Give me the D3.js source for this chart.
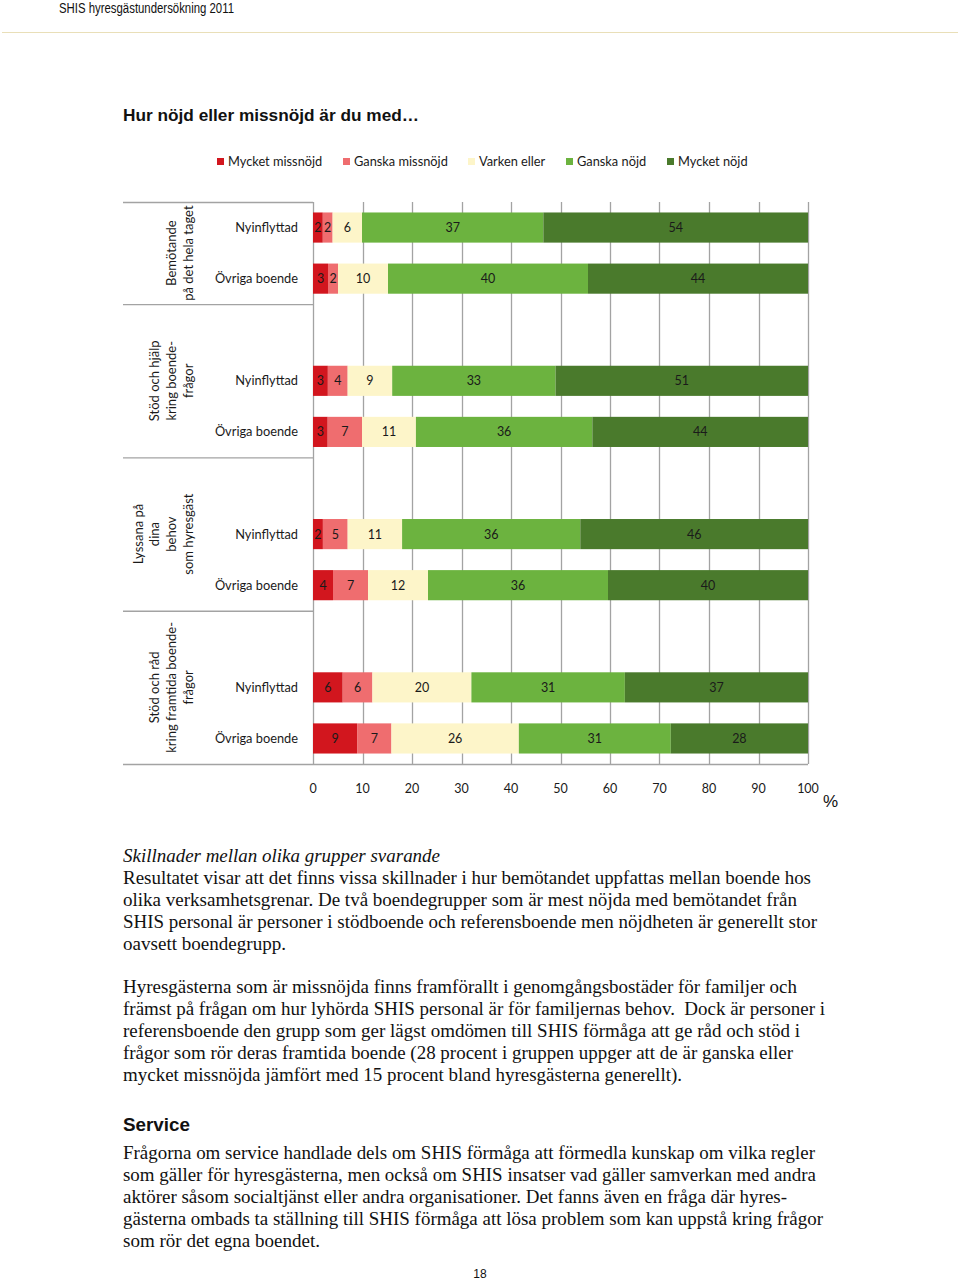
<!DOCTYPE html>
<html><head><meta charset="utf-8">
<script src="https://cdn.jsdelivr.net/npm/d3@7"></script>
<style>
body{margin:0;background:#fff;}
svg text{font-family:Lato, "Open Sans", sans-serif;}
</style></head>
<body>
<svg id="c" width="960" height="1280"></svg>
<script>
// ---- data ----
const groups = [
  ["Bemötande", "på det hela taget"],
  ["Stöd och hjälp", "kring boende-", "frågor"],
  ["Lyssana på", "dina", "behov", "som hyresgäst"],
  ["Stöd och råd", "kring framtida boende-", "frågor"]
];
const respondents = ["Nyinflyttad", "Övriga boende"];
const seriesNames = ["Mycket missnöjd", "Ganska missnöjd", "Varken eller", "Ganska nöjd", "Mycket nöjd"];
const muchDissatisfied = [2, 3, 3, 3, 2, 4, 6, 9];
const someDissatisfied = [2, 2, 4, 7, 5, 7, 6, 7];
const neither          = [6, 10, 9, 11, 11, 12, 20, 26];
const someSatisfied    = [37, 40, 33, 36, 36, 36, 31, 31];
const verySatisfied    = [54, 44, 51, 44, 46, 40, 37, 28];
const xTicks = [0, 10, 20, 30, 40, 50, 60, 70, 80, 90, 100];
const colors = ["#d2161e", "#ef6d6f", "#fdf5c9", "#6cb33f", "#4a7a2c"];

const svg = d3.select("#c");

// header
svg.append("text").attr("x", 59).attr("y", 12.5).attr("textLength", 175).attr("lengthAdjust", "spacingAndGlyphs")
  .style("font-family", "Liberation Sans, Arial, sans-serif").style("font-size", "14px").attr("fill", "#111")
  .text("SHIS hyresgästundersökning 2011");
svg.append("line").attr("x1", 2).attr("x2", 958).attr("y1", 32.5).attr("y2", 32.5).attr("stroke", "#e9dfb8").attr("stroke-width", 1.2);

// title
svg.append("text").attr("x", 123).attr("y", 121).attr("textLength", 296).attr("lengthAdjust", "spacingAndGlyphs")
  .style("font-family", "Liberation Sans, Arial, sans-serif").style("font-size", "17px").style("font-weight", "bold").attr("fill", "#111")
  .text("Hur nöjd eller missnöjd är du med…");

// rows
const rows = [];
const rowKeys = [];
groups.forEach((g, gi) => {
  if (gi > 0) rowKeys.push("blank" + gi);
  respondents.forEach((r, ri) => {
    const i = rows.length;
    const rec = {key: gi + "-" + ri, group: gi, label: r};
    seriesNames.forEach((s, si) => {
      rec[s] = [muchDissatisfied, someDissatisfied, neither, someSatisfied, verySatisfied][si][i];
    });
    rows.push(rec);
    rowKeys.push(rec.key);
  });
});

const x = d3.scaleLinear().domain([0, 1]).range([313, 808]);
const xAxisScale = d3.scaleLinear().domain([0, 100]).range([313, 808]);
const y = d3.scaleBand().domain(rowKeys).range([202, 764]).paddingInner(0.41).paddingOuter(0.205);
const step = y.step();

// gridlines
svg.append("g").selectAll("line").data(xTicks).join("line")
  .attr("x1", d => Math.round(xAxisScale(d)) + 0.5).attr("x2", d => Math.round(xAxisScale(d)) + 0.5)
  .attr("y1", 202).attr("y2", 764).attr("stroke", "#a3a3a3").attr("stroke-width", 1.3);

// stacked bars (100% normalized)
const stack = d3.stack().keys(seriesNames).offset(d3.stackOffsetExpand);
const layers = stack(rows);
const lg = svg.append("g").selectAll("g").data(layers).join("g").attr("fill", (d, i) => colors[i]);
lg.selectAll("rect").data(d => d).join("rect")
  .attr("x", d => x(d[0])).attr("width", d => x(d[1]) - x(d[0]))
  .attr("y", d => y(d.data.key)).attr("height", y.bandwidth());

// data labels
layers.forEach((layer, li) => {
  svg.append("g").selectAll("text").data(layer).join("text")
    .attr("x", d => (x(d[0]) + x(d[1])) / 2)
    .attr("y", d => y(d.data.key) + y.bandwidth() / 2 + 4.5)
    .attr("text-anchor", "middle").style("font-size", "12.5px").attr("fill", "#1a1a1a")
    .text(d => d.data[layer.key]);
});

// group boundary lines & axis lines
const boundaryIdx = [0];
let cnt = 0;
groups.forEach((g, gi) => { cnt += (gi > 0 ? 3 : 2); boundaryIdx.push(cnt); });
const yTop = y.range()[0];
svg.append("g").selectAll("line").data(boundaryIdx).join("line")
  .attr("x1", 123).attr("x2", (d, i) => i === boundaryIdx.length - 1 ? 808 : 313)
  .attr("y1", d => yTop + d * step + 0.5).attr("y2", d => yTop + d * step + 0.5)
  .attr("stroke", "#a3a3a3").attr("stroke-width", 1.3);

// group labels (rotated)
groups.forEach((g, gi) => {
  const y0 = yTop + boundaryIdx[gi] * step, y1 = yTop + boundaryIdx[gi + 1] * step;
  const cy = (y0 + y1) / 2;
  const n = g.length;
  g.forEach((line, li) => {
    const bx = 193 - (n - 1 - li) * 16.8;
    svg.append("text").attr("transform", `translate(${bx},${cy}) rotate(-90)`)
      .attr("text-anchor", "middle").style("font-size", "13px").attr("fill", "#1a1a1a").text(line);
  });
});

// row labels
svg.append("g").selectAll("text").data(rows).join("text")
  .attr("x", 298).attr("y", d => y(d.key) + y.bandwidth() / 2 + 4.5)
  .attr("text-anchor", "end").style("font-size", "12.8px").attr("fill", "#1a1a1a").text(d => d.label);

// x tick labels
svg.append("g").selectAll("text").data(xTicks).join("text")
  .attr("x", d => xAxisScale(d)).attr("y", 793).attr("text-anchor", "middle")
  .style("font-size", "12.5px").attr("fill", "#1a1a1a").text(d => d);
svg.append("text").attr("x", 823).attr("y", 807).style("font-family", "Liberation Sans, Arial, sans-serif")
  .style("font-size", "17px").attr("fill", "#111").text("%");

// legend
const legX = [217, 343, 468, 566, 667];
const leg = svg.append("g").selectAll("g").data(seriesNames).join("g")
  .attr("transform", (d, i) => `translate(${legX[i]},158)`);
leg.append("rect").attr("width", 7).attr("height", 7).attr("fill", (d, i) => colors[i]);
leg.append("text").attr("x", 11).attr("y", 8).style("font-size", "12.8px").attr("fill", "#1a1a1a").text(d => d);

// body text
const serif = "Liberation Serif, Times New Roman, serif";
const body = [
  {t: "Skillnader mellan olika grupper svarande", y: 862, w: 317, italic: true},
  {t: "Resultatet visar att det finns vissa skillnader i hur bemötandet uppfattas mellan boende hos", y: 884, w: 688},
  {t: "olika verksamhetsgrenar. De två boendegrupper som är mest nöjda med bemötandet från", y: 906, w: 674},
  {t: "SHIS personal är personer i stödboende och referensboende men nöjdheten är generellt stor", y: 928, w: 694},
  {t: "oavsett boendegrupp.", y: 950, w: 163},
  {t: "Hyresgästerna som är missnöjda finns framförallt i genomgångsbostäder för familjer och", y: 993, w: 674},
  {t: "främst på frågan om hur lyhörda SHIS personal är för familjernas behov.  Dock är personer i", y: 1015, w: 702},
  {t: "referensboende den grupp som ger lägst omdömen till SHIS förmåga att ge råd och stöd i", y: 1037, w: 677},
  {t: "frågor som rör deras framtida boende (28 procent i gruppen uppger att de är ganska eller", y: 1059, w: 670},
  {t: "mycket missnöjda jämfört med 15 procent bland hyresgästerna generellt).", y: 1081, w: 559},
  {t: "Frågorna om service handlade dels om SHIS förmåga att förmedla kunskap om vilka regler", y: 1159, w: 692},
  {t: "som gäller för hyresgästerna, men också om SHIS insatser vad gäller samverkan med andra", y: 1181, w: 693},
  {t: "aktörer såsom socialtjänst eller andra organisationer. Det fanns även en fråga där hyres-", y: 1203, w: 664},
  {t: "gästerna ombads ta ställning till SHIS förmåga att lösa problem som kan uppstå kring frågor", y: 1225, w: 700},
  {t: "som rör det egna boendet.", y: 1247, w: 197}
];
svg.append("g").selectAll("text").data(body).join("text")
  .attr("x", 123).attr("y", d => d.y).attr("textLength", d => d.w).attr("lengthAdjust", "spacingAndGlyphs")
  .style("font-family", serif).style("font-size", "18px").style("font-style", d => d.italic ? "italic" : "normal")
  .style("white-space", "pre").attr("fill", "#111").text(d => d.t);

svg.append("text").attr("x", 123).attr("y", 1131).attr("textLength", 67).attr("lengthAdjust", "spacingAndGlyphs")
  .style("font-family", "Liberation Sans, Arial, sans-serif").style("font-size", "19px").style("font-weight", "bold")
  .attr("fill", "#111").text("Service");

svg.append("text").attr("x", 480).attr("y", 1278).attr("text-anchor", "middle")
  .style("font-family", "Liberation Sans, Arial, sans-serif").style("font-size", "12px").attr("fill", "#111").text("18");
</script>
</body></html>
